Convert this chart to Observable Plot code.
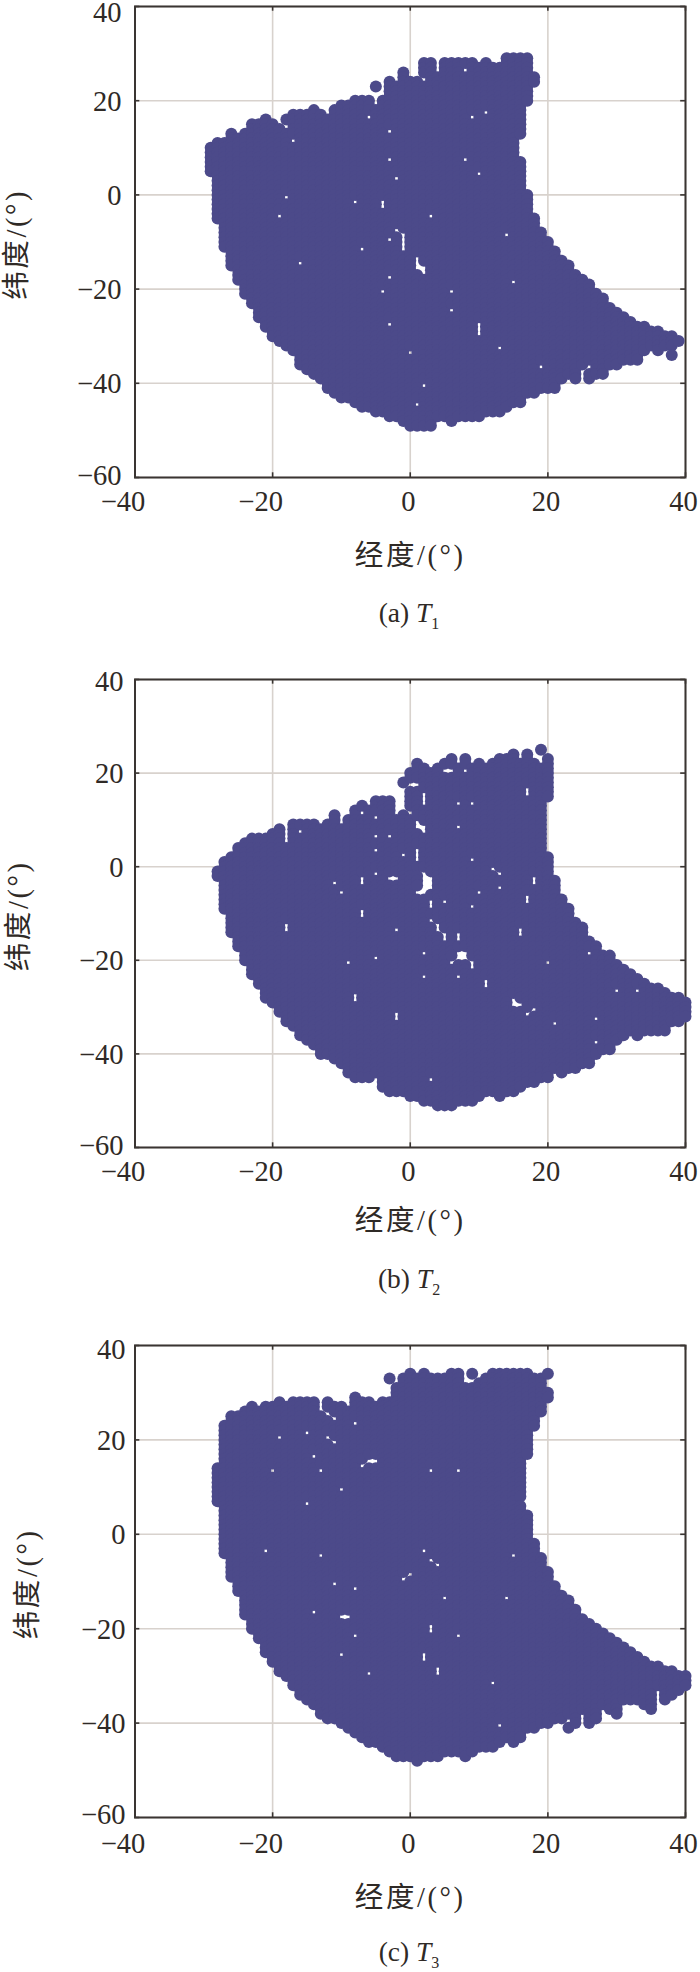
<!DOCTYPE html>
<html>
<head>
<meta charset="utf-8">
<script src="https://cdn.jsdelivr.net/npm/d3@7"></script>
<script src="https://cdn.jsdelivr.net/npm/@observablehq/plot@0.6"></script>
<style>
html,body{margin:0;padding:0;background:#fff;width:700px;height:1972px;overflow:hidden}
.panel{position:absolute;left:0;width:700px}
.panel svg{overflow:visible;display:block;background:transparent}
.cap{position:absolute;left:0;width:818px;text-align:center;font-family:"Liberation Serif",serif;font-size:27.5px;color:#2f2a26;line-height:30px}
.cap sub{font-size:16px;line-height:0}
</style>
</head>
<body>
<div id="root"></div>
<script>
// Occupied grid columns: [lon, topLat, bottomLat, (topLat, bottomLat)...]
const t1Columns = [[-29,10,5],[-28,11,-5],[-27,11,-11],[-26,13,-15],[-25,12,-18],[-24,13,-21],[-23,15,-23],[-22,15,-26],[-21,16,-28],[-20,15,-30],[-19,14,-31],[-18,16,-32],[-17,17,-33],[-16,17,-36],[-15,17,-37],[-14,18,-38],[-13,17,-39],[-12,16,-41],[-11,18,-42],[-10,19,-43],[-9,19,-43],[-8,20,-44],[-7,20,-45],[-6,20,-45],[-5,23,23,18,-46],[-4,20,-46],[-3,24,-47],[-2,23,-47],[-1,26,-48],[0,24,-49],[1,24,-49],[2,28,26,23,-49],[3,28,-49],[4,25,-47],[5,28,-47],[6,28,-48],[7,28,-47],[8,28,-47],[9,28,-47],[10,27,-47],[11,28,-46],[12,27,-46],[13,27,-46],[14,29,-45],[15,29,-44],[16,29,13,7,-44],[17,29,20,0,-42],[18,25,24,-5,-42],[19,-8,-41],[20,-10,-41],[21,-12,-41],[22,-14,-39],[23,-15,-38],[24,-17,-39],[25,-18,-36],[26,-19,-39],[27,-21,-38],[28,-22,-38],[29,-24,-36],[30,-25,-36],[31,-26,-35],[32,-27,-35],[33,-28,-35],[34,-28,-33],[35,-29,-32],[36,-29,-33],[37,-30,-32],[38,-30,-32,-34,-34],[39,-31,-31]];
// Empty cells inside the region: [lon, topLat, bottomLat]
const t1Holes = [[-6,17,16],[9,17,16],[11,18,17],[-3,14,13],[-17,12,11],[-3,8,7],[8,8,7],[10,5,4],[-2,4,3],[-18,0,-1],[-8,-1,-2],[-4,-1,-3],[-19,-4,-5],[3,-4,-5],[-2,-7,-8],[14,-8,-9],[-1,-8,-12],[-3,-9,-10],[-7,-11,-12],[-16,-14,-15],[1,-13,-14],[1,-15,-16],[2,-15,-17],[-3,-17,-18],[15,-18,-19],[-4,-20,-21],[6,-20,-21],[6,-24,-25],[10,-27,-30],[-3,-27,-28],[13,-32,-33],[0,-33,-34],[19,-36,-37],[26,-36,-37],[2,-40,-41],[1,-44,-45],[-18,15,14],[8,27,26]];

const t2Columns = [[-28,-1,-2],[-27,1,-9],[-26,2,-14],[-25,4,-17],[-24,5,-20],[-23,6,-23],[-22,6,-25],[-21,6,-28],[-20,7,-29],[-19,8,-31],[-18,4,-33],[-17,9,-34],[-16,9,-36],[-15,9,-37],[-14,9,-38],[-13,8,-40],[-12,9,-40],[-11,11,-41],[-10,8,-42],[-9,10,-44],[-8,12,-45],[-7,13,-45],[-6,12,-45],[-5,14,-44],[-4,14,-47],[-3,14,-48],[-2,10,-48],[-1,18,18,11,-48],[0,20,19,16,13,10,-49],[1,22,19,16,-49],[2,21,-50],[3,20,-50],[4,21,-51],[5,22,-51],[6,23,-51],[7,21,-50],[8,23,-50],[9,21,-50],[10,22,-49],[11,21,-48],[12,22,-48],[13,23,-49],[14,23,-48],[15,24,-48],[16,22,-47],[17,24,-46],[18,22,-46],[19,25,25,21,-45],[20,23,15,2,-45],[21,-3,-43],[22,-7,-44],[23,-9,-43],[24,-12,-43],[25,-13,-42],[26,-16,-42],[27,-17,-40],[28,-19,-39],[29,-19,-39],[30,-21,-37],[31,-22,-36],[32,-23,-35],[33,-24,-36],[34,-25,-35],[35,-26,-35],[36,-26,-35],[37,-27,-35],[38,-28,-33],[39,-28,-33],[40,-29,-32]];
const t2Holes = [[-16,8,7],[-5,11,10],[-7,12,11],[-5,7,6],[-3,7,6],[-5,4,3],[-1,3,2],[1,4,1],[-5,-1,-2],[-3,-2,-3],[-2,-2,-3],[-7,-2,-4],[-11,-3,-4],[-10,-5,-6],[-18,-12,-14],[-7,-9,-11],[3,-7,-9],[5,-7,-8],[9,-8,-9],[10,-5,-6],[13,-4,-5],[12,0,-1],[13,-1,-2],[9,2,1],[18,-2,-4],[17,-6,-8],[17,17,15],[7,14,13],[9,14,13],[7,9,8],[2,16,13],[5,21,20],[6,21,20],[8,21,20],[1,10,8],[2,9,7],[3,-11,-12],[4,-12,-14],[5,-14,-16],[7,-14,-16],[16,-13,-15],[-2,-13,-14],[2,-18,-19],[26,-18,-19],[7,-18,-20],[8,-18,-20],[6,-20,-21],[9,-20,-22],[20,-20,-21],[2,-23,-24],[7,-23,-24],[11,-24,-26],[30,-26,-27],[33,-26,-27],[15,-28,-30],[16,-29,-30],[18,-30,-31],[17,-31,-32],[27,-32,-33],[21,-33,-34],[27,-37,-38],[3,-45,-46],[-9,-20,-21],[-5,-19,-20],[-8,-27,-29],[-2,-31,-33],[1,-1,-1],[1,-5,-6],[2,-1,-6],[3,-2,-5]];

const t3Columns = [[-28,14,7],[-27,23,-4],[-26,25,-9],[-25,25,-12],[-24,26,-17],[-23,27,-20],[-22,26,-22],[-21,27,-25],[-20,27,-27],[-19,28,-29],[-18,27,-30],[-17,28,-32],[-16,28,-34],[-15,28,-35],[-14,28,-36],[-13,25,-38],[-12,28,-39],[-11,27,-39],[-10,27,-40],[-9,26,-41],[-8,29,-42],[-7,28,-43],[-6,28,-44],[-5,27,-44],[-4,28,-45],[-3,33,33,28,-46],[-2,31,-47],[-1,33,-47],[0,34,-47],[1,33,-48],[2,34,-47],[3,33,-47],[4,33,-47],[5,33,-46],[6,34,-46],[7,34,-46],[8,31,-47],[9,34,34,31,-46],[10,32,-45],[11,33,-45],[12,34,-45],[13,34,-44],[14,34,-43],[15,34,-44],[16,34,8,6,-43],[17,34,17,4,-41],[18,33,23,-2,-41],[19,33,26,-5,-40],[20,34,34,30,29,-8,-40],[21,-11,-39],[22,-13,-39],[23,-14,-41],[24,-16,-40],[25,-18,-37],[26,-19,-40],[27,-20,-39],[28,-21,-36],[29,-22,-37],[30,-23,-38],[31,-24,-35],[32,-25,-35],[33,-26,-35],[34,-27,-36],[35,-28,-37],[36,-28,-34],[37,-29,-35],[38,-29,-34],[39,-30,-33],[40,-30,-32]];
const t3Holes = [[-12,26,25],[-11,25,24],[-8,24,23],[-15,22,21],[-19,21,20],[-12,21,20],[-11,20,19],[-14,17,16],[-6,16,15],[-5,16,15],[-7,15,14],[-20,14,13],[-13,14,13],[3,14,13],[7,14,13],[-10,10,9],[-15,7,6],[-21,-3,-4],[-13,-4,-5],[2,-3,-4],[3,-5,-6],[4,-6,-7],[0,-8,-9],[-1,-9,-10],[-11,-10,-11],[-8,-11,-12],[-14,-16,-17],[-10,-17,-18],[-9,-17,-18],[-8,-21,-22],[-10,-25,-26],[-6,-29,-30],[3,-19,-21],[2,-25,-27],[4,-28,-30],[15,-4,-5],[5,-13,-14],[14,-13,-14],[7,-21,-22],[12,-31,-32],[13,-40,-41],[23,-39,-40],[36,-33,-34]];

const xTicks = [-40, -20, 0, 20, 40];
const yTicks = [-60, -40, -20, 0, 20, 40];
const xName = "经度/(°)";
const yName = "纬度/(°)";
const tags = ["(a)", "(b)", "(c)"];
const subs = ["1", "2", "3"];

const SERIF = "'Liberation Serif','Noto Sans CJK SC',serif";
const INK = "#2f2a26", DOT = "#4c4a8a", GRID = "#d8d2cd";
const minus = d => String(d).replace("-", "−");

function cells(columns, holes) {
  const gone = new Set();
  for (const [lon, a, b] of holes) for (let v = a; v >= b; v--) gone.add(lon + "," + v);
  const out = [];
  for (const [lon, ...s] of columns)
    for (let i = 0; i < s.length; i += 2)
      for (let lat = s[i]; lat >= s[i + 1]; lat--)
        if (!gone.has(lon + "," + lat)) out.push({lon, lat});
  return out;
}

const panels = [
  {cols: t1Columns, holes: t1Holes, top: 0,    h: 471, yDx: -118, topDy: 6, botDy: -2, tickY: 24, labelY: 78, rightEnd: 13.5, cap: 598},
  {cols: t2Columns, holes: t2Holes, top: 673,  h: 468, yDx: -116, topDy: 2, botDy: -2, tickY: 24, labelY: 73, rightEnd: 11.5, cap: 1264},
  {cols: t3Columns, holes: t3Holes, top: 1339, h: 472, yDx: -107, topDy: 4, botDy: -3, tickY: 26, labelY: 80, rightEnd: 9.5,  cap: 1937}
];

panels.forEach((p, i) => {
  const textOpts = {fontFamily: SERIF, fontSize: 28.5, fill: INK};
  const plot = Plot.plot({
    width: 700,
    height: 6 + p.h + 110,
    marginLeft: 134.5, marginRight: 15, marginTop: 6, marginBottom: 110,
    style: {background: "transparent"},
    x: {domain: [-40, 40], axis: null},
    y: {domain: [-60, 40], axis: null},
    marks: [
      Plot.ruleX(xTicks, {x: d => d, stroke: GRID, strokeWidth: 1.6}),
      Plot.ruleY(yTicks, {y: d => d, stroke: GRID, strokeWidth: 1.6}),
      Plot.ruleX(xTicks, {x: d => d, y1: -60, y2: -59, stroke: "#3a3532", strokeWidth: 1.6}),
      Plot.ruleX(xTicks, {x: d => d, y1: 39, y2: 40, stroke: "#3a3532", strokeWidth: 1.6}),
      Plot.ruleY(yTicks, {y: d => d, x1: -40, x2: -39.3, stroke: "#3a3532", strokeWidth: 1.6}),
      Plot.ruleY(yTicks, {y: d => d, x1: 39.3, x2: 40, stroke: "#3a3532", strokeWidth: 1.6}),
      Plot.frame({stroke: "#3a3532", strokeWidth: 2}),
      Plot.dot(cells(p.cols, p.holes), {x: "lon", y: "lat", r: 6, fill: DOT, stroke: "none"}),
      Plot.text(xTicks.filter(d => d < 0), {x: d => d, y: -60, text: minus, dy: p.tickY, dx: -12, ...textOpts}),
      Plot.text(xTicks.filter(d => d >= 0), {x: d => d, y: -60, text: minus, dy: p.tickY, dx: -2, ...textOpts}),
      Plot.text(yTicks.filter(d => d > -60 && d < 40), {x: -40, y: d => d, text: minus, dx: -p.rightEnd, dy: 1, textAnchor: "end", ...textOpts}),
      Plot.text([40], {x: -40, y: d => d, text: minus, dx: -p.rightEnd, dy: p.topDy, textAnchor: "end", ...textOpts}),
      Plot.text([-60], {x: -40, y: d => d, text: minus, dx: -p.rightEnd, dy: p.botDy, textAnchor: "end", ...textOpts}),
      Plot.text([xName], {x: 0, y: -60, dy: p.labelY, ...textOpts}),
      Plot.text([yName], {x: -40, y: -10.5, dx: p.yDx, rotate: -90, ...textOpts})
    ]
  });
  // The reference sets its axis names loosely.
  d3.select(plot).selectAll("text, tspan")
    .filter(function () { const t = this.textContent; return (t === xName || t === yName) && !this.querySelector("tspan"); })
    .attr("letter-spacing", 2.6);
  const wrap = document.createElement("div");
  wrap.className = "panel";
  wrap.style.top = p.top + "px";
  wrap.appendChild(plot);
  document.getElementById("root").appendChild(wrap);
  const cap = document.createElement("div");
  cap.className = "cap";
  cap.style.top = p.cap + "px";
  cap.innerHTML = tags[i] + " <i>T</i><sub>" + subs[i] + "</sub>";
  document.getElementById("root").appendChild(cap);
});
</script>
</body>
</html>
